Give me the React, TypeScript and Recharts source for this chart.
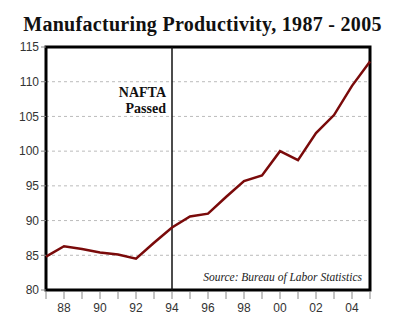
import React from 'react';
import { LineChart, Line, XAxis, YAxis, CartesianGrid, ReferenceLine, ReferenceArea } from 'recharts';

const years = [1987, 1988, 1989, 1990, 1991, 1992, 1993, 1994, 1995, 1996, 1997, 1998, 1999, 2000, 2001, 2002, 2003, 2004, 2005];
const productivity = [84.8, 86.3, 85.9, 85.4, 85.1, 84.5, 86.8, 89.0, 90.6, 91.0, 93.4, 95.7, 96.5, 100.0, 98.7, 102.6, 105.2, 109.4, 112.9];
const yTicks = [80, 85, 90, 95, 100, 105, 110, 115];
const labelledYears = [1988, 1990, 1992, 1994, 1996, 1998, 2000, 2002, 2004];
const naftaYear = 1994;

const data = years.map((year, i) => ({ year, value: productivity[i] }));

const XTick = (props: any) => {
  const { x, y, payload } = props;
  const show = labelledYears.includes(payload.value);
  return (
    <g>
      <line x1={x} x2={x} y1={y - 6} y2={y + 1} stroke="#888" strokeWidth={1} />
      {show && (
        <text x={x} y={y + 14} textAnchor="middle" fill="#333" fontSize={12} fontFamily="'Liberation Sans', Arial, sans-serif">
          {String(payload.value % 100).padStart(2, '0')}
        </text>
      )}
    </g>
  );
};

const NaftaLabel = (props: any) => {
  const { viewBox } = props;
  const x = viewBox.x - 6;
  const y = viewBox.y;
  return (
    <g fontFamily="'Liberation Serif', 'Times New Roman', serif" fontWeight="bold" fontSize={14} fill="#111" textAnchor="end">
      <text x={x} y={y + 50}>NAFTA</text>
      <text x={x} y={y + 66}>Passed</text>
    </g>
  );
};

export default function App() {
  return (
    <div style={{ position: 'absolute', left: 0, top: 0, width: 400, height: 326, background: '#fff' }}>
      <div
        style={{
          position: 'absolute', left: 0, top: 13, width: 405, textAlign: 'center',
          fontFamily: "'Liberation Serif', 'Times New Roman', serif", fontWeight: 'bold', fontSize: 20,
          letterSpacing: 0.3, color: '#111',
        }}
      >
        Manufacturing Productivity, 1987 - 2005
      </div>
      <LineChart width={400} height={326} data={data} margin={{ top: 47, right: 30, bottom: 6, left: 0 }}>
        <CartesianGrid horizontal vertical={false} strokeDasharray="3 3" stroke="#bbb" />
        <XAxis
          dataKey="year"
          type="number"
          domain={[1987, 2005]}
          ticks={years}
          interval={0}
          axisLine={false}
          tickLine={false}
          height={30}
          tick={<XTick />}
        />
        <YAxis
          domain={[80, 115]}
          ticks={yTicks}
          interval={0}
          width={46}
          axisLine={false}
          tickLine={{ stroke: '#888' }}
          tickSize={5}
          tick={{ fill: '#333', fontSize: 12, fontFamily: "'Liberation Sans', Arial, sans-serif" }}
        />
        <ReferenceLine x={naftaYear} stroke="#111" strokeWidth={1.5} label={<NaftaLabel />} />
        <Line type="linear" dataKey="value" stroke="#7a0a0a" strokeWidth={2.5} dot={false} isAnimationActive={false} />
        <ReferenceArea x1={1987} x2={2005} y1={80} y2={115} fill="none" stroke="#000" strokeWidth={3} />
      </LineChart>
      <div
        style={{
          position: 'absolute', right: 38, top: 271, fontFamily: "'Liberation Serif', 'Times New Roman', serif",
          fontStyle: 'italic', fontSize: 11.5, color: '#222',
        }}
      >
        Source: Bureau of Labor Statistics
      </div>
    </div>
  );
}
